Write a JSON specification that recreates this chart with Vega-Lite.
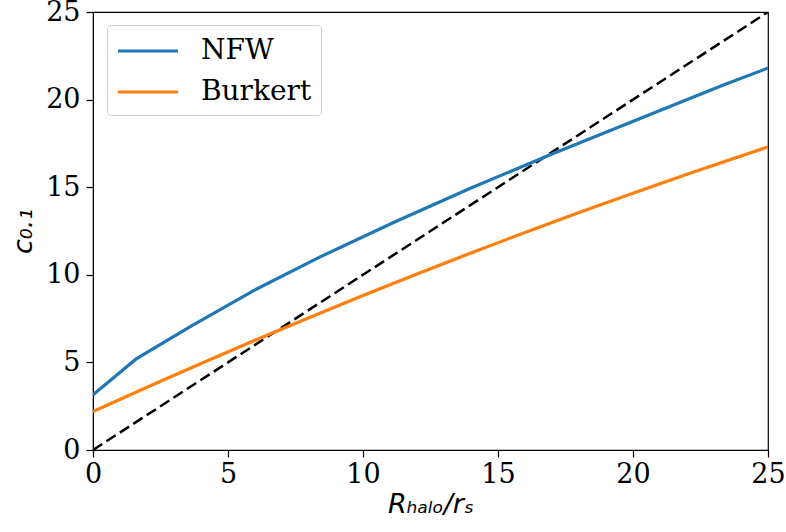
{
  "$schema": "https://vega.github.io/schema/vega-lite/v6.json",
  "width": 675,
  "height": 438,
  "autosize": {"type": "none"},
  "padding": {"left": 93, "top": 12, "right": 18, "bottom": 82},
  "background": "white",
  "config": {
    "view": {"stroke": "black", "strokeWidth": 1.2},
    "axis": {
      "grid": false,
      "domainColor": "black",
      "tickColor": "black",
      "tickSize": 7,
      "tickWidth": 1.2,
      "labelFont": "DejaVu Serif",
      "labelFontSize": 27,
      "labelColor": "black",
      "labelFlush": false,
      "titleFont": "DejaVu Sans",
      "titleFontSize": 27,
      "titleFontWeight": "normal",
      "titleFontStyle": "italic",
      "titleColor": "black"
    }
  },
  "datasets": {
    "curves": [
      {"x": 0, "y": 3.15, "model": "NFW"},
      {"x": 1.6, "y": 5.2, "model": "NFW"},
      {"x": 3.65, "y": 7.08, "model": "NFW"},
      {"x": 5.95, "y": 9.1, "model": "NFW"},
      {"x": 8.45, "y": 11.05, "model": "NFW"},
      {"x": 11.15, "y": 13.0, "model": "NFW"},
      {"x": 14.0, "y": 14.95, "model": "NFW"},
      {"x": 17.0, "y": 16.9, "model": "NFW"},
      {"x": 20.1, "y": 18.82, "model": "NFW"},
      {"x": 23.3, "y": 20.8, "model": "NFW"},
      {"x": 25, "y": 21.8, "model": "NFW"},
      {"x": 0, "y": 2.2, "model": "Burkert"},
      {"x": 2, "y": 3.58, "model": "Burkert"},
      {"x": 4, "y": 4.94, "model": "Burkert"},
      {"x": 6, "y": 6.26, "model": "Burkert"},
      {"x": 8, "y": 7.55, "model": "Burkert"},
      {"x": 10, "y": 8.82, "model": "Burkert"},
      {"x": 12, "y": 10.05, "model": "Burkert"},
      {"x": 14, "y": 11.25, "model": "Burkert"},
      {"x": 16, "y": 12.42, "model": "Burkert"},
      {"x": 18, "y": 13.56, "model": "Burkert"},
      {"x": 20, "y": 14.66, "model": "Burkert"},
      {"x": 22, "y": 15.74, "model": "Burkert"},
      {"x": 25, "y": 17.3, "model": "Burkert"}
    ],
    "diag": [
      {"x": 0, "y": 0},
      {"x": 25, "y": 25}
    ]
  },
  "layer": [
    {
      "data": {"name": "diag"},
      "mark": {"type": "line", "color": "black", "strokeWidth": 2.5, "strokeDash": [11, 5], "clip": true},
      "encoding": {
        "x": {"field": "x", "type": "quantitative"},
        "y": {"field": "y", "type": "quantitative"}
      }
    },
    {
      "data": {"name": "curves"},
      "mark": {"type": "line", "strokeWidth": 3.2, "clip": true},
      "encoding": {
        "x": {
          "field": "x", "type": "quantitative",
          "scale": {"domain": [0, 25], "nice": false, "zero": false},
          "axis": {"values": [0, 5, 10, 15, 20, 25], "title": "Rₕₐₗₒ/rₛ", "titlePadding": 4, "labelPadding": 4}
        },
        "y": {
          "field": "y", "type": "quantitative",
          "scale": {"domain": [0, 25], "nice": false, "zero": false},
          "axis": {"values": [0, 5, 10, 15, 20, 25], "title": "c₀.₁", "titlePadding": 8, "labelPadding": 6}
        },
        "color": {
          "field": "model", "type": "nominal",
          "scale": {"domain": ["NFW", "Burkert"], "range": ["#1f77b4", "#ff7f0e"]},
          "legend": {
            "title": null,
            "orient": "none",
            "legendX": 14,
            "legendY": 13,
            "symbolType": "M-1,0L3,0",
            "symbolSize": 900,
            "symbolStrokeWidth": 3.2,
            "labelFont": "DejaVu Serif",
            "labelFontSize": 28,
            "labelColor": "black",
            "rowPadding": 10,
            "labelOffset": 51,
            "padding": 9,
            "fillColor": "rgba(255,255,255,0.8)",
            "strokeColor": "#d0d0d0",
            "cornerRadius": 4
          }
        },
        "order": {"field": "x", "type": "quantitative"}
      }
    }
  ]
}
